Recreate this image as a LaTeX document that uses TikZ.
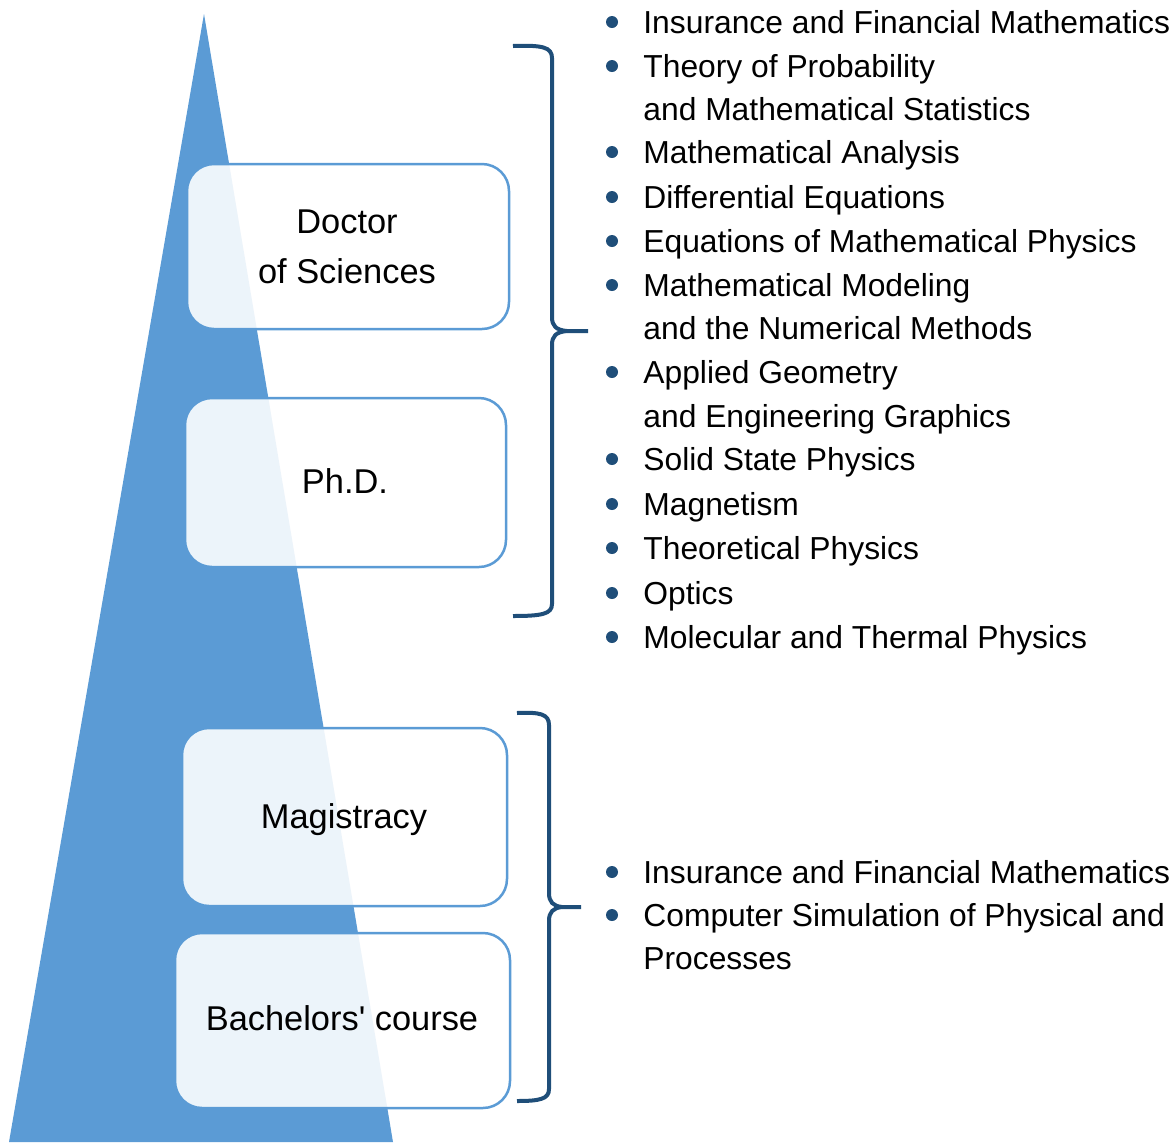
\documentclass[tikz,border=0pt]{standalone}
\usepackage{fontspec}
\setmainfont{Liberation Sans}[Ligatures=TeXOff]
\definecolor{triblue}{HTML}{5B9BD5}
\definecolor{boxline}{HTML}{5B9BD5}
\definecolor{darkblue}{HTML}{1F4E79}
\begin{document}
\begin{tikzpicture}[x=0.5pt,y=-0.5pt,
  box/.style={draw=boxline, line width=1.25pt, fill=white, fill opacity=0.89, text opacity=1,
    rounded corners=13.5pt, inner sep=0pt},
  lbl/.style={font=\fontsize{17.2}{25}\selectfont, text=black, inner sep=0pt, anchor=base},
  itm/.style={font=\fontsize{15.9}{21.5}\selectfont, text=black, inner sep=0pt, anchor=base west},
  bul/.style={circle, fill=darkblue, inner sep=0pt, minimum size=6pt},
  brace/.style={draw=darkblue, line width=2pt, line cap=butt}]
\useasboundingbox (0,0) rectangle (1174,1142);
% triangle
\fill[triblue] (204,14) -- (393,1142) -- (9,1142) -- cycle;
% boxes
\node[box, minimum width=161pt, minimum height=82.5pt] (doc) at (348,246.5) {};
\node[box, minimum width=160.5pt, minimum height=84.5pt] (phd) at (345.5,482.5) {};
\node[box, minimum width=162.5pt, minimum height=89pt] (mag) at (344.5,817) {};
\node[box, minimum width=167.5pt, minimum height=87.5pt] (bac) at (342.5,1020.5) {};
% box labels
\node[lbl] (docA) at (347,233) {Doctor};
\node[lbl] (docB) at (347,283) {of Sciences};
\node[lbl] (phdL) at (345,493) {Ph.D.};
\node[lbl] (magL) at (344,828) {Magistracy};
\node[lbl] (bacL) at (342,1030) {Bachelors' course};
% upper brace
\coordinate (ua) at (513,46);
\coordinate (ut) at (588,331);
\coordinate (ub) at (513,616);
\draw[brace] (ua) .. controls (542,45) and (552,47) .. (552,58) -- (552,317)
  .. controls (552,326) and (556,330) .. (567,331) -- (ut);
\draw[brace] (567,331) .. controls (556,332) and (552,336) .. (552,345) -- (552,604)
  .. controls (552,614) and (542,616) .. (ub);
% lower brace
\coordinate (la) at (517,713);
\coordinate (lt) at (581,907);
\coordinate (lb) at (517,1101);
\draw[brace] (la) .. controls (540,712) and (549,714) .. (549,725) -- (549,893)
  .. controls (549,902) and (553,906) .. (562,907) -- (lt);
\draw[brace] (562,907) .. controls (553,908) and (549,912) .. (549,921) -- (549,1089)
  .. controls (549,1099) and (540,1101) .. (lb);
% upper list
\node[bul] (u1) at (612,22) {};
\node[itm] (t1) at (643,33) {Insurance and Financial Mathematics};
\node[bul] (u2) at (612,66) {};
\node[itm] (t2) at (643,77) {Theory of Probability};
\node[itm] (t2b) at (643,120) {and Mathematical Statistics};
\node[bul] (u3) at (612,152) {};
\node[itm] (t3) at (643,163) {Mathematical Analysis};
\node[bul] (u4) at (612,197) {};
\node[itm] (t4) at (643,208) {Differential Equations};
\node[bul] (u5) at (612,241) {};
\node[itm] (t5) at (643,252) {Equations of Mathematical Physics};
\node[bul] (u6) at (612,285) {};
\node[itm] (t6) at (643,296) {Mathematical Modeling};
\node[itm] (t6b) at (643,339) {and the Numerical Methods};
\node[bul] (u7) at (612,372) {};
\node[itm] (t7) at (643,383) {Applied Geometry};
\node[itm] (t7b) at (643,427) {and Engineering Graphics};
\node[bul] (u8) at (612,459) {};
\node[itm] (t8) at (643,470) {Solid State Physics};
\node[bul] (u9) at (612,504) {};
\node[itm] (t9) at (643,515) {Magnetism};
\node[bul] (u10) at (612,548) {};
\node[itm] (t10) at (643,559) {Theoretical Physics};
\node[bul] (u11) at (612,593) {};
\node[itm] (t11) at (643,604) {Optics};
\node[bul] (u12) at (612,637) {};
\node[itm] (t12) at (643,648) {Molecular and Thermal Physics};
% lower list
\node[bul] (l1) at (612,872) {};
\node[itm] (s1) at (643,883) {Insurance and Financial Mathematics};
\node[bul] (l2) at (612,915) {};
\node[itm] (s2) at (643,926) {Computer Simulation of Physical and};
\node[itm] (s2b) at (643,969) {Processes};
\end{tikzpicture}
\end{document}
